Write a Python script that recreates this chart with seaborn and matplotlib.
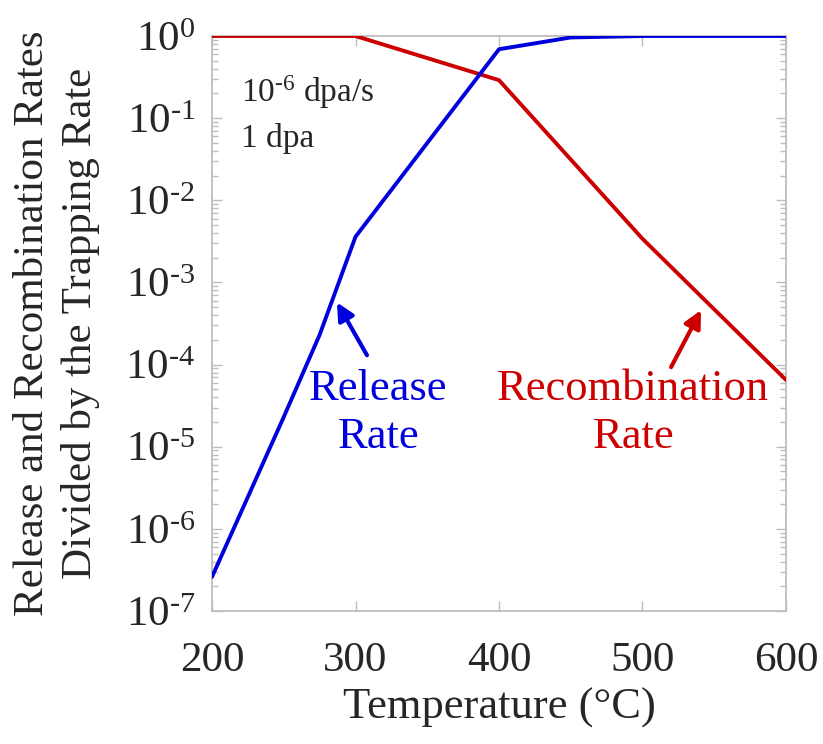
import numpy as np
import pandas as pd
import matplotlib
matplotlib.use("Agg")
import matplotlib.pyplot as plt
import matplotlib.ticker as mticker
import seaborn as sns

# ---- data ----
temp_release = [200, 250, 275, 300, 400, 450, 500, 550, 600]
release_rate = [2.6e-7, 2.3e-5, 2.3e-4, 3.6e-3, 0.69, 0.96, 1.0, 1.0, 1.0]
temp_recomb = [200, 250, 300, 400, 500, 600]
recomb_rate = [1.0, 1.0, 1.0, 0.29, 3.4e-3, 6.5e-5]
x_ticks = [200, 300, 400, 500, 600]
y_ticks = [1e-7, 1e-6, 1e-5, 1e-4, 1e-3, 1e-2, 1e-1, 1e0]
y_tick_labels = [r"$10^{‐7}$", r"$10^{‐6}$", r"$10^{‐5}$", r"$10^{‐4}$",
                 r"$10^{‐3}$", r"$10^{‐2}$", r"$10^{‐1}$", r"$10^{0}$"]

BLUE = "#0000dd"
RED = "#cc0000"
GRAY = "#bdbdbd"

sns.set_style("ticks")
plt.rcParams["font.family"] = ["Liberation Serif", "DejaVu Serif"]
plt.rcParams["mathtext.fontset"] = "custom"
plt.rcParams["mathtext.rm"] = "Liberation Serif"
plt.rcParams["mathtext.it"] = "Liberation Serif"
plt.rcParams["mathtext.bf"] = "Liberation Serif"

df_rel = pd.DataFrame({"T": temp_release, "rate": release_rate})
df_rec = pd.DataFrame({"T": temp_recomb, "rate": recomb_rate})

fig = plt.figure(figsize=(8.23, 7.44), dpi=100)
ax = fig.add_axes([212/823, 1-611/744, (786-212)/823, (611-36)/744])

sns.lineplot(data=df_rec, x="T", y="rate", ax=ax, color=RED, lw=2.8, zorder=3)
sns.lineplot(data=df_rel, x="T", y="rate", ax=ax, color=BLUE, lw=2.8, zorder=3)

ax.set_yscale("log")
ax.set_xlim(200, 600)
ax.set_ylim(1e-7, 1e0)
ax.set_xticks(x_ticks)
ax.set_xticklabels([str(t) for t in x_ticks])
ax.set_yticks(y_ticks)
ax.set_yticklabels(y_tick_labels)
ax.yaxis.set_minor_locator(mticker.LogLocator(base=10, subs=np.arange(2, 10), numticks=100))
ax.yaxis.set_minor_formatter(mticker.NullFormatter())
ax.xaxis.set_minor_locator(mticker.NullLocator())

for s in ax.spines.values():
    s.set_color(GRAY)
    s.set_linewidth(1.3)
ax.tick_params(which="both", direction="in", top=True, right=True, color=GRAY, width=1.0)
ax.tick_params(which="major", length=7)
ax.tick_params(which="minor", length=4)
ax.tick_params(axis="x", which="major", labelsize=31, pad=22)
ax.tick_params(axis="y", which="major", labelsize=31, pad=12)

ax.set_xlabel("Temperature (°C)", fontsize=32)
ax.xaxis.set_label_coords(0.5, (611-708)/575)
ax.xaxis.label.set_va("center")
ax.set_ylabel("Release and Recombination Rates\nDivided by the Trapping Rate",
              fontsize=31, linespacing=1.3)
ax.yaxis.set_label_coords((57-212)/574, 0.5)
ax.yaxis.label.set_va("center")

ax.text(220.2, 0.157, r"$10^{‐6}$ dpa/s", fontsize=24, va="baseline", ha="left")
ax.text(220.2, 0.044, "1 dpa", fontsize=24, va="baseline", ha="left")

# annotation labels
ax.text(315.7, 2.6e-5, "Release\nRate", fontsize=32, color=BLUE,
        ha="center", va="center", linespacing=1.25)
ax.text(493.4, 2.6e-5, "Recombination\nRate", fontsize=32, color=RED,
        ha="center", va="center", linespacing=1.25)
# arrows
ax.annotate("", xy=(287.1, 5.7e-4), xytext=(308.0, 1.3e-4),
            arrowprops=dict(arrowstyle="-|>", color=BLUE, lw=3, mutation_scale=26,
                            shrinkA=0, shrinkB=0))
ax.annotate("", xy=(540.8, 4.6e-4), xytext=(519.9, 9.3e-5),
            arrowprops=dict(arrowstyle="-|>", color=RED, lw=3, mutation_scale=26,
                            shrinkA=0, shrinkB=0))

fig.savefig("out.png", dpi=100)
